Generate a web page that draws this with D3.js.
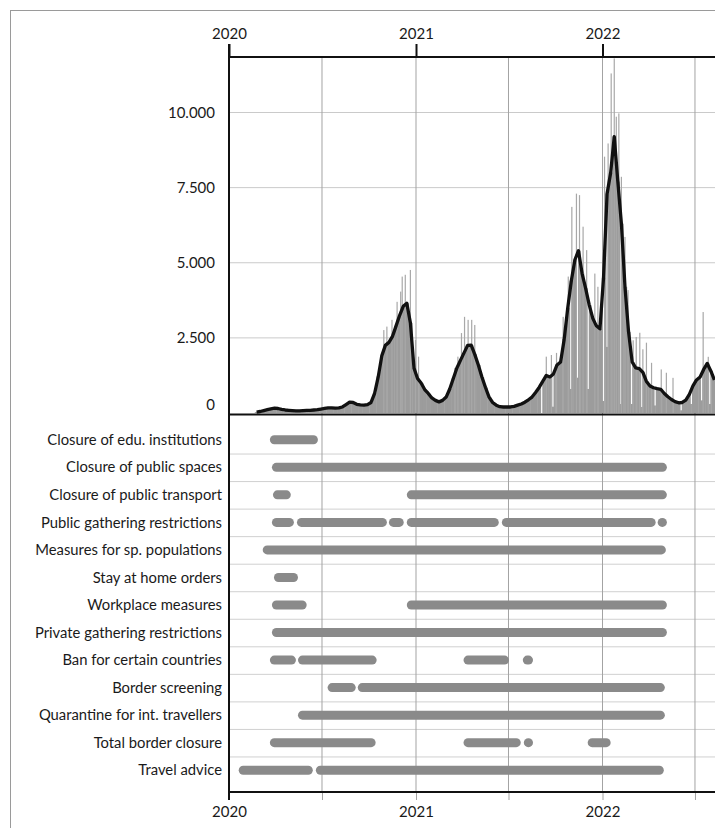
<!DOCTYPE html>
<html>
<head>
<meta charset="utf-8">
<script src="https://cdn.jsdelivr.net/npm/d3@7"></script>
<style>
  body { margin: 0; background: #fff; }
  text { font-family: Lato, "Open Sans", sans-serif; fill: #1a1a1a; }
</style>
</head>
<body>
<div id="chart"></div>
<script>
// 7-day average of daily cases, one value per week, first week 2020-02-24
const weekStart = "2020-02-24";
const weeklyAvg = [
  30, 50, 80, 110, 140, 160, 150, 120, 100, 90,
  80, 70, 70, 80, 90, 90, 100, 110, 130, 150,
  170, 170, 160, 170, 200, 280, 360, 350, 290, 270,
  260, 280, 350, 650, 1200, 1900, 2250, 2350, 2550, 2900,
  3250, 3550, 3650, 3000, 1500, 1150, 1000, 780, 650, 500,
  420, 370, 420, 530, 800, 1150, 1500, 1750, 2000, 2250,
  2260, 1950, 1600, 1200, 850, 530, 350, 260, 210, 200,
  200, 200, 220, 260, 300, 360, 440, 530, 680, 850,
  1050, 1250, 1200, 1300, 1600, 1700, 2450, 3500, 4400, 5100,
  5400, 4650, 4150, 3600, 3150, 2900, 2800, 4500, 7300, 8000,
  9200, 7700, 6300, 4200, 2700, 1700, 1500, 1480, 1350, 1050,
  900, 840, 810, 790, 650, 540, 450, 380, 340, 350,
  430, 620, 900, 1100, 1200, 1450, 1650, 1400, 1100
];

// single days reported well above the average
const spikes = [
  ["2020-10-30", 2760], ["2020-11-05", 2875], ["2020-11-15", 3100], ["2020-11-25", 3700],
  ["2020-12-02", 4040], ["2020-12-05", 4540], ["2020-12-11", 4600], ["2020-12-21", 4760],
  ["2020-12-31", 2430], ["2021-01-06", 1875],
  ["2021-03-18", 1500], ["2021-03-24", 1875], ["2021-03-31", 2660], ["2021-04-06", 3200],
  ["2021-04-13", 3100], ["2021-04-20", 3100], ["2021-04-26", 2930],
  ["2021-09-13", 1875], ["2021-09-23", 1930], ["2021-10-03", 2000], ["2021-10-16", 3200],
  ["2021-10-26", 4540], ["2021-11-02", 6860], ["2021-11-11", 7300], ["2021-11-17", 7250],
  ["2021-11-24", 6200], ["2021-12-01", 5420], ["2021-12-17", 4640], ["2021-12-23", 4200],
  ["2022-01-05", 8530], ["2022-01-12", 8970], ["2022-01-18", 11300], ["2022-01-24", 11800],
  ["2022-01-28", 9860], ["2022-02-02", 9970], ["2022-02-07", 7860], ["2022-02-14", 5860],
  ["2022-02-20", 4090], ["2022-03-02", 2420], ["2022-03-08", 2530], ["2022-03-15", 2670],
  ["2022-03-21", 2120], ["2022-03-28", 2340], ["2022-04-07", 1670], ["2022-04-26", 1450],
  ["2022-05-06", 1340], ["2022-05-19", 1170], ["2022-07-17", 3360], ["2022-07-27", 1870],
  ["2022-08-02", 1340]
];

// single days reported well below the average
const dips = [
  ["2021-09-04", 0], ["2021-09-26", 210], ["2021-10-31", 800], ["2021-11-13", 1175],
  ["2021-12-04", 800], ["2022-01-03", 400], ["2022-01-10", 2200], ["2022-02-06", 300],
  ["2022-02-27", 300], ["2022-03-19", 200], ["2022-04-14", 250], ["2022-06-04", 90],
  ["2022-06-24", 300], ["2022-07-14", 420], ["2022-07-30", 300]
];

const measures = [
  "Closure of edu. institutions", "Closure of public spaces", "Closure of public transport",
  "Public gathering restrictions", "Measures for sp. populations", "Stay at home orders",
  "Workplace measures", "Private gathering restrictions", "Ban for certain countries",
  "Border screening", "Quarantine for int. travellers", "Total border closure", "Travel advice"
];

// measure, start, end
const periods = [
  ["Closure of edu. institutions", "2020-03-21", "2020-06-23"],
  ["Closure of public spaces", "2020-03-25", "2022-05-07"],
  ["Closure of public transport", "2020-03-27", "2020-05-01"],
  ["Closure of public transport", "2020-12-14", "2022-05-07"],
  ["Public gathering restrictions", "2020-03-25", "2020-05-07"],
  ["Public gathering restrictions", "2020-05-13", "2020-11-05"],
  ["Public gathering restrictions", "2020-11-09", "2020-12-08"],
  ["Public gathering restrictions", "2020-12-14", "2021-06-12"],
  ["Public gathering restrictions", "2021-06-18", "2022-04-15"],
  ["Public gathering restrictions", "2022-04-19", "2022-05-07"],
  ["Measures for sp. populations", "2020-03-07", "2022-05-05"],
  ["Stay at home orders", "2020-03-29", "2020-05-15"],
  ["Workplace measures", "2020-03-25", "2020-06-01"],
  ["Workplace measures", "2020-12-14", "2022-05-07"],
  ["Private gathering restrictions", "2020-03-25", "2022-05-07"],
  ["Ban for certain countries", "2020-03-21", "2020-05-11"],
  ["Ban for certain countries", "2020-05-15", "2020-10-16"],
  ["Ban for certain countries", "2021-04-04", "2021-07-02"],
  ["Ban for certain countries", "2021-07-29", "2021-08-18"],
  ["Border screening", "2020-07-12", "2020-09-05"],
  ["Border screening", "2020-09-09", "2022-05-03"],
  ["Quarantine for int. travellers", "2020-05-15", "2022-05-03"],
  ["Total border closure", "2020-03-21", "2020-10-14"],
  ["Total border closure", "2021-04-04", "2021-07-25"],
  ["Total border closure", "2021-07-31", "2021-08-18"],
  ["Total border closure", "2021-12-03", "2022-01-17"],
  ["Travel advice", "2020-01-20", "2020-06-13"],
  ["Travel advice", "2020-06-19", "2022-05-01"]
];

const yTicks = [0, 2500, 5000, 7500, 10000];
const yearTicks = ["2020-01-01", "2021-01-01", "2022-01-01"];
const halfYearTicks = ["2020-01-01", "2020-07-01", "2021-01-01", "2021-07-01", "2022-01-01", "2022-07-01"];

const W = 715, H = 828;
const leftX = 229, rightX = 715;
const topY = 57, midY = 414.5, bottomY = 792;

const parse = d3.utcParse("%Y-%m-%d");
const start = parse(weekStart);
const weekly = weeklyAvg.map((v, i) => ({ date: d3.utcDay.offset(start, 7 * i), value: v }));

const svg = d3.select("#chart").append("svg")
  .attr("width", W)
  .attr("height", H);

// outer frame
svg.append("rect")
  .attr("x", 10.5).attr("y", 10.5)
  .attr("width", 760).attr("height", 860)
  .attr("fill", "none").attr("stroke", "#9a9a9a");

const x = d3.scaleUtc()
  .domain([parse("2020-01-01"), parse("2022-01-01")])
  .range([leftX, 602.5]);

const y = d3.scaleLinear()
  .domain([0, 10000])
  .range([413, 112.5]);

const rows = d3.scaleBand()
  .domain(measures)
  .range([426, 784]);

svg.append("clipPath").attr("id", "plot")
  .append("rect").attr("x", leftX).attr("y", topY).attr("width", rightX - leftX).attr("height", midY - topY);

// grid
const grid = svg.append("g");
grid.selectAll(".hy")
  .data(yTicks.slice(1))
  .join("line")
  .attr("x1", leftX).attr("x2", rightX)
  .attr("y1", d => y(d)).attr("y2", d => y(d))
  .attr("stroke", "#cacaca");

grid.selectAll(".row")
  .data(measures.slice(1))
  .join("line")
  .attr("x1", leftX).attr("x2", rightX)
  .attr("y1", d => rows(d) + 0.5).attr("y2", d => rows(d) + 0.5)
  .attr("stroke", "#d0d0d0");

grid.selectAll(".vx")
  .data(halfYearTicks.slice(1))
  .join("line")
  .attr("x1", d => x(parse(d))).attr("x2", d => x(parse(d)))
  .attr("y1", topY).attr("y2", bottomY)
  .attr("stroke", "#a3a3a3");

// daily cases
const plot = svg.append("g").attr("clip-path", "url(#plot)");
const bw = x(d3.utcDay.offset(start, 7)) - x(start);

plot.selectAll(".wk")
  .data(weekly)
  .join("rect")
  .attr("x", d => x(d.date) - bw / 2)
  .attr("width", bw + 0.4)
  .attr("y", d => y(d.value))
  .attr("height", d => y(0) - y(d.value))
  .attr("fill", "#9c9c9c");

const bisect = d3.bisector(d => d.date).center;
const weekAt = s => weekly[bisect(weekly, parse(s))].value;

plot.selectAll(".dip")
  .data(dips)
  .join("rect")
  .attr("x", d => x(parse(d[0])) - 0.6)
  .attr("width", 1.2)
  .attr("y", d => y(weekAt(d[0])) - 6)
  .attr("height", d => Math.max(0, y(d[1]) - y(weekAt(d[0])) + 6))
  .attr("fill", "#fff");

plot.selectAll(".spike")
  .data(spikes)
  .join("rect")
  .attr("x", d => x(parse(d[0])) - 0.6)
  .attr("width", 1.2)
  .attr("y", d => y(d[1]))
  .attr("height", d => y(0) - y(d[1]))
  .attr("fill", "#a8a8a8");

plot.append("path")
  .datum(weekly)
  .attr("fill", "none")
  .attr("stroke", "#111")
  .attr("stroke-width", 3.3)
  .attr("stroke-linejoin", "round")
  .attr("d", d3.line().x(d => x(d.date)).y(d => y(d.value)));

// measures
svg.append("g").selectAll("rect")
  .data(periods)
  .join("rect")
  .attr("x", d => x(parse(d[1])))
  .attr("width", d => x(parse(d[2])) - x(parse(d[1])))
  .attr("y", d => rows(d[0]) + rows.bandwidth() / 2 - 4.5)
  .attr("height", 9)
  .attr("rx", 4.5)
  .attr("fill", "#8a8a8a");

svg.append("g").selectAll("text")
  .data(measures)
  .join("text")
  .attr("x", leftX - 7)
  .attr("y", d => rows(d) + rows.bandwidth() / 2)
  .attr("dy", "0.35em")
  .attr("text-anchor", "end")
  .style("font-size", "14.8px")
  .text(d => d);

// axes
const fmt = d3.formatLocale({ decimal: ",", thousands: ".", grouping: [3], currency: ["", ""] }).format(",d");

const yAxis = svg.append("g")
  .attr("transform", `translate(${leftX},0)`)
  .call(d3.axisLeft(y).tickValues(yTicks).tickSize(0).tickPadding(14).tickFormat(fmt));
yAxis.select(".domain").remove();
yAxis.selectAll("text").style("font-size", "15px").attr("fill", "#1a1a1a");
yAxis.selectAll(".tick").filter(d => d === 0).select("text").attr("dy", "-0.22em");

const topAxis = svg.append("g")
  .attr("transform", `translate(0,${topY})`)
  .call(d3.axisTop(x).tickValues(yearTicks.map(parse)).tickSize(13).tickPadding(5).tickFormat(d3.utcFormat("%Y")));
topAxis.select(".domain").remove();
topAxis.selectAll("line").attr("stroke", "#111").attr("stroke-width", 2);
topAxis.selectAll("text").style("font-size", "15px").attr("fill", "#1a1a1a");

const bottomAxis = svg.append("g")
  .attr("transform", `translate(0,${bottomY})`)
  .call(d3.axisBottom(x).tickValues(halfYearTicks.map(parse)).tickSize(8).tickPadding(6)
    .tickFormat(d => d.getUTCMonth() === 0 ? d3.utcFormat("%Y")(d) : ""));
bottomAxis.select(".domain").remove();
bottomAxis.selectAll("line").attr("stroke", "#a3a3a3");
bottomAxis.selectAll("text").style("font-size", "15px").attr("fill", "#1a1a1a");

// frame lines
const frame = svg.append("g").attr("stroke", "#111").attr("stroke-width", 2);
frame.append("line").attr("x1", leftX).attr("x2", rightX).attr("y1", topY).attr("y2", topY);
frame.append("line").attr("x1", leftX).attr("x2", rightX).attr("y1", midY).attr("y2", midY);
frame.append("line").attr("x1", leftX).attr("x2", rightX).attr("y1", bottomY).attr("y2", bottomY);
frame.append("line").attr("x1", leftX).attr("x2", leftX).attr("y1", topY - 13).attr("y2", bottomY + 8);
</script>
</body>
</html>
